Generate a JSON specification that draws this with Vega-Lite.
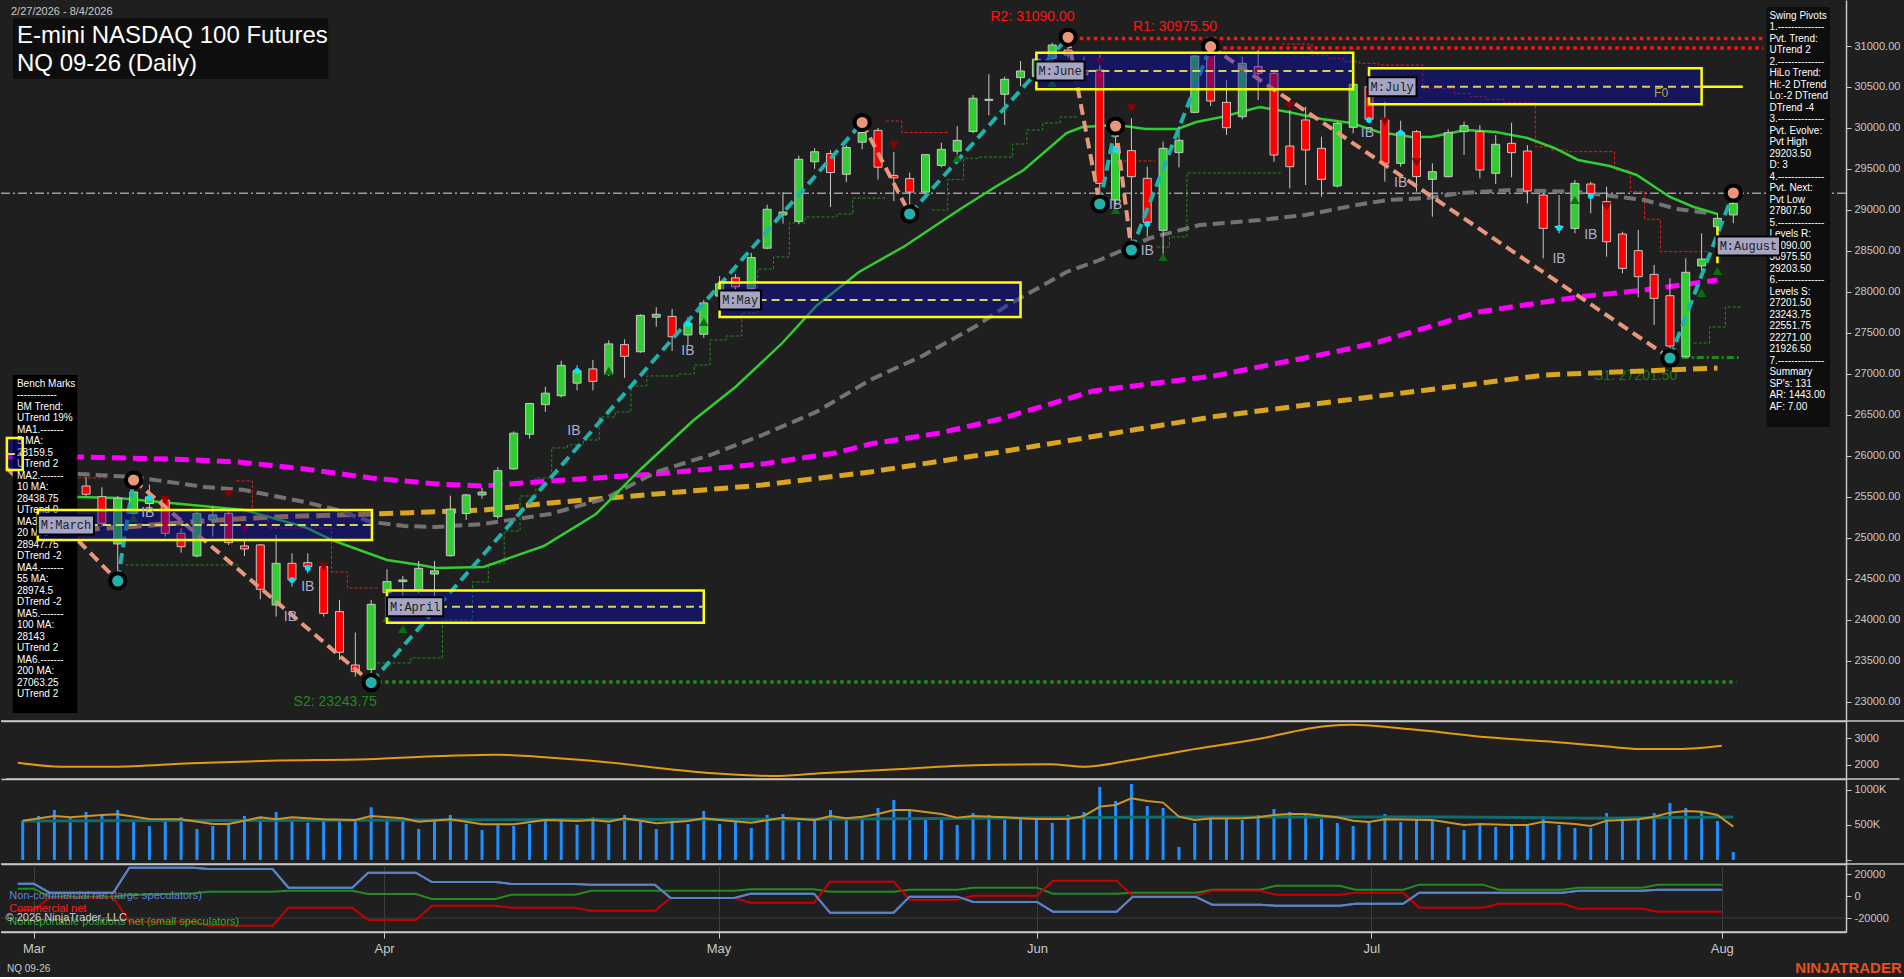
{
  "$schema": "https://vega.github.io/schema/vega-lite/v6.json",
  "background": "#1f1f1f",
  "padding": 0,
  "spacing": 0,
  "bounds": "flush",
  "config": {
    "font": "Liberation Sans",
    "view": {"stroke": null},
    "axis": {"labelColor": "#c8c8c8", "tickColor": "#c8c8c8", "domainColor": "#c8c8c8", "labelFontSize": 11, "tickSize": 5, "grid": false, "domainWidth": 1.5, "labelPadding": 3, "labelFont": "Liberation Sans"}
  },
  "datasets": {
    "candles": [
      {"i":0,"o":25650,"h":25750,"l":25450,"c":25550,"v":559},
      {"i":1,"o":25550,"h":25620,"l":25350,"c":25400,"v":626},
      {"i":2,"o":25400,"h":25680,"l":25380,"c":25600,"v":711},
      {"i":3,"o":25600,"h":25700,"l":25450,"c":25500,"v":607},
      {"i":4,"o":25634,"h":25740,"l":25504,"c":25533,"v":683},
      {"i":5,"o":25504,"h":25618,"l":25138,"c":25179,"v":635},
      {"i":6,"o":24927,"h":25512,"l":24476,"c":25484,"v":711},
      {"i":7,"o":25300,"h":25707,"l":25250,"c":25560,"v":569},
      {"i":8,"o":25420,"h":25650,"l":25350,"c":25500,"v":483},
      {"i":9,"o":25463,"h":25484,"l":25016,"c":25057,"v":559},
      {"i":10,"o":25057,"h":25118,"l":24821,"c":24894,"v":607},
      {"i":11,"o":24781,"h":25321,"l":24764,"c":25301,"v":440},
      {"i":12,"o":25220,"h":25382,"l":25016,"c":25281,"v":483},
      {"i":13,"o":25301,"h":25342,"l":24915,"c":24943,"v":502},
      {"i":14,"o":24903,"h":24975,"l":24780,"c":24866,"v":626},
      {"i":15,"o":24915,"h":24927,"l":24252,"c":24374,"v":607},
      {"i":16,"o":24183,"h":25037,"l":24041,"c":24691,"v":683},
      {"i":17,"o":24691,"h":24813,"l":24407,"c":24488,"v":545},
      {"i":18,"o":24699,"h":24813,"l":24569,"c":24650,"v":531},
      {"i":19,"o":24650,"h":24691,"l":24041,"c":24081,"v":559},
      {"i":20,"o":24102,"h":24244,"l":23512,"c":23606,"v":559},
      {"i":21,"o":23451,"h":23846,"l":23309,"c":23370,"v":559},
      {"i":22,"o":23398,"h":24244,"l":23243.75,"c":24191,"v":749},
      {"i":23,"o":24333,"h":24618,"l":24081,"c":24468,"v":588},
      {"i":24,"o":24468,"h":24537,"l":24300,"c":24488,"v":569},
      {"i":25,"o":24366,"h":24720,"l":24325,"c":24630,"v":440},
      {"i":26,"o":24560,"h":24720,"l":24163,"c":24600,"v":569},
      {"i":27,"o":24784,"h":25516,"l":24773,"c":25350,"v":640},
      {"i":28,"o":25298,"h":25540,"l":25220,"c":25525,"v":512},
      {"i":29,"o":25525,"h":25612,"l":25481,"c":25560,"v":426},
      {"i":30,"o":25263,"h":25864,"l":25233,"c":25821,"v":512},
      {"i":31,"o":25842,"h":26300,"l":25830,"c":26278,"v":483},
      {"i":32,"o":26265,"h":26648,"l":26213,"c":26640,"v":512},
      {"i":33,"o":26626,"h":26844,"l":26539,"c":26766,"v":583},
      {"i":34,"o":26735,"h":27162,"l":26714,"c":27105,"v":597},
      {"i":35,"o":26888,"h":27105,"l":26800,"c":27040,"v":502},
      {"i":36,"o":27062,"h":27171,"l":26800,"c":26910,"v":607},
      {"i":37,"o":26997,"h":27410,"l":26975,"c":27367,"v":512},
      {"i":38,"o":27358,"h":27423,"l":26953,"c":27215,"v":640},
      {"i":39,"o":27271,"h":27728,"l":27258,"c":27715,"v":540},
      {"i":40,"o":27693,"h":27815,"l":27576,"c":27728,"v":440},
      {"i":41,"o":27702,"h":27794,"l":27280,"c":27454,"v":597},
      {"i":42,"o":27476,"h":27693,"l":27354,"c":27615,"v":512},
      {"i":43,"o":27484,"h":27902,"l":27441,"c":27867,"v":697},
      {"i":44,"o":27950,"h":28194,"l":27900,"c":28100,"v":512},
      {"i":45,"o":28173,"h":28216,"l":27955,"c":28064,"v":559},
      {"i":46,"o":28042,"h":28477,"l":28020,"c":28421,"v":455},
      {"i":47,"o":28534,"h":29065,"l":28521,"c":29009,"v":640},
      {"i":48,"o":28940,"h":29218,"l":28834,"c":28975,"v":654},
      {"i":49,"o":28861,"h":29662,"l":28826,"c":29618,"v":540},
      {"i":50,"o":29588,"h":29753,"l":29501,"c":29710,"v":559},
      {"i":51,"o":29688,"h":29727,"l":29035,"c":29457,"v":711},
      {"i":52,"o":29435,"h":29793,"l":29340,"c":29762,"v":569},
      {"i":53,"o":29827,"h":30080,"l":29740,"c":29945,"v":607},
      {"i":54,"o":29971,"h":30002,"l":29370,"c":29522,"v":740},
      {"i":55,"o":29422,"h":29705,"l":29109,"c":29392,"v":854},
      {"i":56,"o":29383,"h":29457,"l":28948,"c":29218,"v":711},
      {"i":57,"o":29218,"h":29675,"l":29196,"c":29675,"v":597},
      {"i":58,"o":29544,"h":29819,"l":29522,"c":29740,"v":607},
      {"i":59,"o":29718,"h":30023,"l":29675,"c":29849,"v":497},
      {"i":60,"o":29958,"h":30402,"l":29936,"c":30363,"v":668},
      {"i":61,"o":30337,"h":30655,"l":30154,"c":30350,"v":640},
      {"i":62,"o":30411,"h":30626,"l":30037,"c":30594,"v":569},
      {"i":63,"o":30614,"h":30817,"l":30512,"c":30695,"v":583},
      {"i":64,"o":30630,"h":30900,"l":30560,"c":30840,"v":569},
      {"i":65,"o":30850,"h":31040,"l":30800,"c":31012,"v":526},
      {"i":66,"o":30951,"h":31090,"l":30850,"c":30890,"v":640},
      {"i":67,"o":30700,"h":30870,"l":30560,"c":30650,"v":683},
      {"i":68,"o":30707,"h":30890,"l":29081,"c":29325,"v":1039},
      {"i":69,"o":29122,"h":30024,"l":29050,"c":29772,"v":839},
      {"i":70,"o":29724,"h":30118,"l":28512,"c":29406,"v":1081},
      {"i":71,"o":29386,"h":29528,"l":28675,"c":28846,"v":768},
      {"i":72,"o":28752,"h":29834,"l":28431,"c":29752,"v":740},
      {"i":73,"o":29700,"h":30016,"l":29520,"c":29850,"v":184},
      {"i":74,"o":30191,"h":30890,"l":30179,"c":30878,"v":526},
      {"i":75,"o":30960,"h":30975.5,"l":30268,"c":30329,"v":611},
      {"i":76,"o":30313,"h":30585,"l":29915,"c":30004,"v":583},
      {"i":77,"o":30138,"h":30870,"l":30106,"c":30789,"v":569},
      {"i":78,"o":30748,"h":30951,"l":30341,"c":30667,"v":640},
      {"i":79,"o":30667,"h":30707,"l":29589,"c":29671,"v":725},
      {"i":80,"o":29780,"h":30220,"l":29264,"c":29528,"v":683},
      {"i":81,"o":30098,"h":30260,"l":29305,"c":29732,"v":654},
      {"i":82,"o":29752,"h":29894,"l":29163,"c":29374,"v":583},
      {"i":83,"o":29293,"h":30077,"l":29276,"c":30057,"v":526},
      {"i":84,"o":30008,"h":30545,"l":29935,"c":30533,"v":483},
      {"i":85,"o":30504,"h":30748,"l":30057,"c":30106,"v":526},
      {"i":86,"o":30098,"h":30321,"l":29346,"c":29569,"v":654},
      {"i":87,"o":29569,"h":30089,"l":29528,"c":29943,"v":540},
      {"i":88,"o":29955,"h":29975,"l":29224,"c":29407,"v":583},
      {"i":89,"o":29374,"h":29569,"l":28918,"c":29467,"v":554},
      {"i":90,"o":29406,"h":29983,"l":29398,"c":29943,"v":469},
      {"i":91,"o":29955,"h":30077,"l":29670,"c":30028,"v":426},
      {"i":92,"o":29955,"h":30036,"l":29386,"c":29488,"v":512},
      {"i":93,"o":29447,"h":29914,"l":29317,"c":29801,"v":469},
      {"i":94,"o":29813,"h":30065,"l":29398,"c":29699,"v":497},
      {"i":95,"o":29719,"h":29792,"l":29081,"c":29232,"v":512},
      {"i":96,"o":29183,"h":29203,"l":28410,"c":28776,"v":626},
      {"i":97,"o":28790,"h":29183,"l":28715,"c":28800,"v":497},
      {"i":98,"o":28776,"h":29366,"l":28715,"c":29325,"v":455},
      {"i":99,"o":29317,"h":29345,"l":28959,"c":29203,"v":455},
      {"i":100,"o":29101,"h":29284,"l":28430,"c":28613,"v":668},
      {"i":101,"o":28707,"h":28735,"l":28227,"c":28288,"v":597},
      {"i":102,"o":28504,"h":28756,"l":27935,"c":28187,"v":597},
      {"i":103,"o":28215,"h":28329,"l":27597,"c":27922,"v":668},
      {"i":104,"o":27955,"h":28166,"l":27201.5,"c":27341,"v":811},
      {"i":105,"o":27211,"h":28410,"l":27201.5,"c":28240,"v":740},
      {"i":106,"o":28317,"h":28715,"l":28187,"c":28402,"v":683},
      {"i":107,"o":28796,"h":28959,"l":28553,"c":28898,"v":554},
      {"i":108,"o":28940,"h":29203.5,"l":28840,"c":29080,"v":113}
    ],
    "ma": [
      {"m":"20","i":0,"p":25524},{"m":"20","i":3.5,"p":25500},{"m":"20","i":6,"p":25488},{"m":"20","i":12,"p":25378},{"m":"20","i":14,"p":25341},{"m":"20","i":17.8,"p":25134},{"m":"20","i":19.5,"p":24976},{"m":"20","i":20.9,"p":24878},{"m":"20","i":23,"p":24732},{"m":"20","i":25.1,"p":24671},{"m":"20","i":26.1,"p":24634},{"m":"20","i":29.1,"p":24646},{"m":"20","i":32.9,"p":24902},{"m":"20","i":36.2,"p":25293},{"m":"20","i":38.9,"p":25817},{"m":"20","i":42.3,"p":26427},{"m":"20","i":45,"p":26841},{"m":"20","i":47.9,"p":27366},{"m":"20","i":50.1,"p":27829},{"m":"20","i":52.8,"p":28244},{"m":"20","i":55.7,"p":28561},{"m":"20","i":59.1,"p":29000},{"m":"20","i":61.4,"p":29280},{"m":"20","i":63.2,"p":29488},{"m":"20","i":65.9,"p":29939},{"m":"20","i":66.9,"p":30012},{"m":"20","i":69.1,"p":30037},{"m":"20","i":70.9,"p":29988},{"m":"20","i":72.9,"p":29988},{"m":"20","i":74.1,"p":30073},{"m":"20","i":75.7,"p":30134},{"m":"20","i":78.1,"p":30256},{"m":"20","i":79.9,"p":30195},{"m":"20","i":82,"p":30110},{"m":"20","i":83.9,"p":30061},{"m":"20","i":85.6,"p":29951},{"m":"20","i":87.7,"p":29890},{"m":"20","i":88.9,"p":29890},{"m":"20","i":91.1,"p":29976},{"m":"20","i":93,"p":29951},{"m":"20","i":95,"p":29878},{"m":"20","i":96.7,"p":29756},{"m":"20","i":98.2,"p":29610},{"m":"20","i":100.2,"p":29537},{"m":"20","i":101.9,"p":29427},{"m":"20","i":104,"p":29159},{"m":"20","i":105.5,"p":29037},{"m":"20","i":107,"p":28951},
      {"m":"55","i":1.2,"p":25781},{"m":"55","i":3.5,"p":25781},{"m":"55","i":7,"p":25744},{"m":"55","i":11.5,"p":25622},{"m":"55","i":14,"p":25585},{"m":"55","i":17.8,"p":25439},{"m":"55","i":19.9,"p":25341},{"m":"55","i":22,"p":25195},{"m":"55","i":24.1,"p":25146},{"m":"55","i":26.1,"p":25134},{"m":"55","i":29.1,"p":25171},{"m":"55","i":33.3,"p":25293},{"m":"55","i":36.7,"p":25476},{"m":"55","i":40,"p":25805},{"m":"55","i":43.4,"p":26012},{"m":"55","i":46.7,"p":26256},{"m":"55","i":50.1,"p":26537},{"m":"55","i":53.5,"p":26927},{"m":"55","i":56.8,"p":27220},{"m":"55","i":60.2,"p":27585},{"m":"55","i":62.1,"p":27829},{"m":"55","i":65.9,"p":28244},{"m":"55","i":68,"p":28390},{"m":"55","i":71.2,"p":28659},{"m":"55","i":74.3,"p":28817},{"m":"55","i":78.1,"p":28878},{"m":"55","i":81,"p":28939},{"m":"55","i":84.2,"p":29061},{"m":"55","i":86.2,"p":29122},{"m":"55","i":88.7,"p":29146},{"m":"55","i":90.8,"p":29207},{"m":"55","i":94,"p":29244},{"m":"55","i":98.2,"p":29220},{"m":"55","i":102.4,"p":29122},{"m":"55","i":104.4,"p":29012},{"m":"55","i":106.5,"p":28963},
      {"m":"100","i":-1.0,"p":25988},{"m":"100","i":3.5,"p":25988},{"m":"100","i":9.4,"p":25963},{"m":"100","i":13.6,"p":25927},{"m":"100","i":17.8,"p":25842},{"m":"100","i":22,"p":25732},{"m":"100","i":26.1,"p":25659},{"m":"100","i":29.1,"p":25634},{"m":"100","i":33.3,"p":25695},{"m":"100","i":40,"p":25781},{"m":"100","i":46.7,"p":25903},{"m":"100","i":51.3,"p":26037},{"m":"100","i":53.5,"p":26146},{"m":"100","i":57.9,"p":26281},{"m":"100","i":61.7,"p":26451},{"m":"100","i":67.6,"p":26793},{"m":"100","i":75.2,"p":26976},{"m":"100","i":82.8,"p":27268},{"m":"100","i":85.6,"p":27390},{"m":"100","i":91.9,"p":27756},{"m":"100","i":98.2,"p":27939},{"m":"100","i":102.4,"p":28024},{"m":"100","i":107,"p":28146},
      {"m":"200","i":0,"p":25073},{"m":"200","i":3.5,"p":25098},{"m":"200","i":7.3,"p":25146},{"m":"200","i":11.5,"p":25207},{"m":"200","i":15.7,"p":25256},{"m":"200","i":19.9,"p":25280},{"m":"200","i":24.1,"p":25305},{"m":"200","i":29.1,"p":25341},{"m":"200","i":33.3,"p":25427},{"m":"200","i":40,"p":25537},{"m":"200","i":46.7,"p":25646},{"m":"200","i":53.5,"p":25805},{"m":"200","i":61.7,"p":26049},{"m":"200","i":75.2,"p":26480},{"m":"200","i":90.5,"p":26850},{"m":"200","i":96.1,"p":26988},{"m":"200","i":103.9,"p":27049},{"m":"200","i":107,"p":27073}
    ],
    "gstep": [
      {"s":"a","i":6.5,"p":24671},{"s":"a","i":13.6,"p":24671},
      {"s":"b","i":22.4,"p":23476},{"s":"b","i":24.5,"p":23537},{"s":"b","i":26.5,"p":24000},{"s":"b","i":28.4,"p":24463},{"s":"b","i":29.4,"p":24683},{"s":"b","i":30.4,"p":25085},{"s":"b","i":31.4,"p":25512},{"s":"b","i":32.4,"p":25732},{"s":"b","i":33.4,"p":26098},{"s":"b","i":34.4,"p":26134},{"s":"b","i":35.4,"p":26195},{"s":"b","i":36.4,"p":26476},{"s":"b","i":37.4,"p":26537},{"s":"b","i":38.4,"p":26854},{"s":"b","i":39.4,"p":26976},{"s":"b","i":41.4,"p":27000},{"s":"b","i":42.4,"p":27110},{"s":"b","i":43.4,"p":27415},{"s":"b","i":44.4,"p":27463},{"s":"b","i":45.4,"p":27744},{"s":"b","i":46.4,"p":28280},{"s":"b","i":47.4,"p":28427},{"s":"b","i":48.4,"p":28842},{"s":"b","i":49.4,"p":28915},{"s":"b","i":51.4,"p":28951},{"s":"b","i":52.4,"p":29146},{"s":"b","i":54.5,"p":29146},
      {"s":"c","i":57.4,"p":29000},{"s":"c","i":58.4,"p":29370},{"s":"c","i":59.4,"p":29631},{"s":"c","i":60.4,"p":29646},{"s":"c","i":62.5,"p":29805},{"s":"c","i":63.4,"p":29976},{"s":"c","i":64.4,"p":30061},{"s":"c","i":65.5,"p":30134},{"s":"c","i":66.6,"p":30134},
      {"s":"d","i":71.6,"p":28549},{"s":"d","i":72.4,"p":28671},{"s":"d","i":73.5,"p":29451},{"s":"d","i":79.5,"p":29451},
      {"s":"e","i":105.5,"p":27378},{"s":"e","i":106.5,"p":27573},{"s":"e","i":107.5,"p":27817},{"s":"e","i":108.5,"p":27817}
    ],
    "rstep": [
      {"s":"a","i":3.5,"p":25732},{"s":"a","i":5.4,"p":25732},
      {"s":"b","i":13.5,"p":25695},{"s":"b","i":14.5,"p":25341},{"s":"b","i":15.5,"p":25122},{"s":"b","i":19.5,"p":24585},{"s":"b","i":20.5,"p":24390},{"s":"b","i":22.5,"p":24390},
      {"s":"c","i":54.5,"p":30085},{"s":"c","i":55.5,"p":29945},{"s":"c","i":58.4,"p":29945},
      {"s":"d","i":69.5,"p":29598},{"s":"d","i":71.5,"p":29598},
      {"s":"e","i":79.5,"p":31024},{"s":"e","i":81.4,"p":30890},{"s":"e","i":82.4,"p":30850},{"s":"e","i":83.4,"p":30809},{"s":"e","i":84.4,"p":30789},{"s":"e","i":85.6,"p":30768},{"s":"e","i":88.4,"p":30484},{"s":"e","i":90.4,"p":30423},{"s":"e","i":91.4,"p":30382},{"s":"e","i":92.4,"p":30350},{"s":"e","i":93.5,"p":30309},{"s":"e","i":95.5,"p":29772},{"s":"e","i":96.5,"p":29732},{"s":"e","i":97.5,"p":29711},{"s":"e","i":100.5,"p":29488},{"s":"e","i":101.5,"p":29223},{"s":"e","i":102.4,"p":28887},{"s":"e","i":103.4,"p":28492},{"s":"e","i":106.5,"p":28492}
    ],
    "zig": [
      {"s":1,"d":"dn","i":-1.0,"p":25854},{"s":1,"d":"dn","i":6,"p":24476},
      {"s":2,"d":"up","i":6,"p":24476},{"s":2,"d":"up","i":7,"p":25707},
      {"s":3,"d":"dn","i":7,"p":25707},{"s":3,"d":"dn","i":22,"p":23236},
      {"s":4,"d":"up","i":22,"p":23236},{"s":4,"d":"up","i":53,"p":30067},
      {"s":5,"d":"dn","i":53,"p":30067},{"s":5,"d":"dn","i":56,"p":28951},
      {"s":6,"d":"up","i":56,"p":28951},{"s":6,"d":"up","i":66,"p":31106},
      {"s":7,"d":"dn","i":66,"p":31106},{"s":7,"d":"dn","i":68,"p":29073},
      {"s":8,"d":"up","i":68,"p":29073},{"s":8,"d":"up","i":69,"p":30024},
      {"s":9,"d":"dn","i":69,"p":30024},{"s":9,"d":"dn","i":70,"p":28512},
      {"s":10,"d":"up","i":70,"p":28512},{"s":10,"d":"up","i":75,"p":30992},
      {"s":11,"d":"dn","i":75,"p":30992},{"s":11,"d":"dn","i":104,"p":27195},
      {"s":12,"d":"up","i":104,"p":27195},{"s":12,"d":"up","i":108,"p":29207}
    ],
    "piv": [
      {"t":"H","i":7,"p":25707},{"t":"H","i":53,"p":30067},{"t":"H","i":66,"p":31106},{"t":"H","i":69,"p":30024},{"t":"H","i":75,"p":30992},{"t":"H","i":108,"p":29207},
      {"t":"L","i":6,"p":24476},{"t":"L","i":22,"p":23236},{"t":"L","i":56,"p":28951},{"t":"L","i":68,"p":29073},{"t":"L","i":70,"p":28512},{"t":"L","i":104,"p":27195}
    ],
    "tri": [
      {"t":"dn","i":9,"p":25463},{"t":"dn","i":13,"p":25533},{"t":"dn","i":14,"p":25098},{"t":"dn","i":19,"p":24650},{"t":"dn","i":55,"p":29784},{"t":"dn","i":68,"p":30809},{"t":"dn","i":70,"p":30240},{"t":"dn","i":80,"p":30268},{"t":"dn","i":86,"p":30077},{"t":"dn","i":88,"p":29581},{"t":"dn","i":100,"p":29040},
      {"t":"up","i":6,"p":24427},{"t":"up","i":7,"p":25244},{"t":"up","i":22,"p":23207},{"t":"up","i":23,"p":24025},{"t":"up","i":24,"p":23890},{"t":"up","i":37,"p":27037},{"t":"up","i":43,"p":27634},{"t":"up","i":56,"p":28900},{"t":"up","i":59,"p":29634},{"t":"up","i":65,"p":30549},{"t":"up","i":69,"p":29000},{"t":"up","i":72,"p":28427},{"t":"up","i":98,"p":29122},{"t":"up","i":104,"p":27150},{"t":"up","i":106,"p":27988},{"t":"up","i":107,"p":28256}
    ],
    "dots": [
      {"i":8,"p":25488},{"i":17,"p":24488},{"i":18,"p":24634},{"i":35,"p":27037},{"i":42,"p":27610},{"i":69,"p":29732},{"i":71,"p":28829},{"i":85,"p":30098},{"i":87,"p":29939},{"i":97,"p":28780},{"i":99,"p":29171}
    ],
    "lines": [
      {"k":"R","i1":66.3,"i2":109.9,"p":31090},
      {"k":"R","i1":75.8,"i2":109.9,"p":30975.5},
      {"k":"S","i1":22,"i2":108.2,"p":23243.75},
      {"k":"S1","i1":103.8,"i2":108.5,"p":27201.5}
    ],
    "notes": [
      {"k":"R","t":"R2: 31090.00","i":61.1,"p":31348},
      {"k":"R","t":"R1: 30975.50","i":70.1,"p":31226},
      {"k":"S","t":"S2: 23243.75","i":17.1,"p":23000},
      {"k":"F","t":"F0","i":103.0,"p":30427},
      {"k":"S1","t":"S1: 27201.50","i":99.2,"p":26976}
    ],
    "boxes": [
      {"m":"Feb","i1":-1.0,"i2":0.0,"top":26220,"bot":25829,"mid":26024},
      {"m":"Mar","i1":0.95,"i2":22.05,"top":25342,"bot":24976,"mid":25159},
      {"m":"Apr","i1":23,"i2":43,"top":24358,"bot":23967,"mid":24162},
      {"m":"May","i1":44,"i2":63,"top":28116,"bot":27695,"mid":27902},
      {"m":"Jun","i1":64,"i2":84,"top":30918,"bot":30472,"mid":30695},
      {"m":"Jul","i1":85,"i2":106,"top":30728,"bot":30289,"mid":30504},
      {"m":"Aug","i1":107,"i2":107,"top":28796,"bot":28350,"mid":28573}
    ],
    "labels": [
      {"t":"M:March","i1":0.955,"i2":4.5,"p1":25275,"p2":25043,"p":25159},
      {"t":"M:April","i1":23.0,"i2":26.55,"p1":24278,"p2":24046,"p":24162},
      {"t":"M:May","i1":43.97,"i2":46.61,"p1":28018,"p2":27786,"p":27902},
      {"t":"M:June","i1":63.94,"i2":67.04,"p1":30811,"p2":30579,"p":30695},
      {"t":"M:July","i1":84.91,"i2":88.0,"p1":30620,"p2":30388,"p":30504},
      {"t":"M:August","i1":106.95,"i2":110.95,"p1":28677,"p2":28445,"p":28561}
    ],
    "ib": [
      {"i":7.9,"p":25305},{"i":18,"p":24403},{"i":16.9,"p":24037},{"i":34.8,"p":26305},{"i":42,"p":27281},{"i":69,"p":29061},{"i":71,"p":28500},{"i":84.9,"p":29939},{"i":87,"p":29329},{"i":97,"p":28403},{"i":99,"p":28695}
    ],
    "infob": [
      {"k":"bench","i1":-0.63,"i2":3.45,"p1":26988,"p2":22866},
      {"k":"swing","i1":110.1,"i2":114.1,"p1":31476,"p2":26354}
    ],
    "infot": [
      {"k":"bench","i":-0.365,"p":26939,"lines":["Bench Marks","------------","BM Trend:","UTrend 19%","MA1.-------","5 MA:","28159.5","UTrend 2","MA2.-------","10 MA:","28438.75","UTrend 0","MA3.-------","20 MA:","28947.75","DTrend -2","MA4.-------","55 MA:","28974.5","DTrend -2","MA5.-------","100 MA:","28143","UTrend 2","MA6.-------","200 MA:","27063.25","UTrend 2"]},
      {"k":"swing","i":110.28,"p":31430,"lines":["Swing Pivots","1.--------------","Pvt. Trend:","UTrend 2","2.--------------","HiLo Trend:","Hi:-2 DTrend","Lo:-2 DTrend","DTrend -4","3.--------------","Pvt. Evolve:","Pvt High","29203.50","D: 3","4.--------------","Pvt. Next:","Pvt Low","27807.50","5.--------------","Levels R:","31090.00","30975.50","29203.50","6.--------------","Levels S:","27201.50","23243.75","22551.75","22271.00","21926.50","7.--------------","Summary","SP's: 131","AR: 1443.00","AF: 7.00"]}
    ],
    "atr": [
      {"i":0,"a":2085},{"i":2.8,"a":1937},{"i":5.9,"a":1937},{"i":10.9,"a":2063},{"i":15.8,"a":2159},{"i":22,"a":2211},{"i":26.6,"a":2333},{"i":30,"a":2381},{"i":32.6,"a":2307},{"i":36,"a":2159},{"i":43.2,"a":1715},{"i":47.3,"a":1593},{"i":50.4,"a":1693},{"i":55.2,"a":1841},{"i":60,"a":1989},{"i":64.8,"a":2026},{"i":67,"a":1937},{"i":69.7,"a":2159},{"i":73.3,"a":2530},{"i":77.8,"a":2952},{"i":82.2,"a":3444},{"i":83.8,"a":3493},{"i":87.5,"a":3322},{"i":92.3,"a":3026},{"i":97.1,"a":2826},{"i":99.5,"a":2704},{"i":101.9,"a":2593},{"i":104.3,"a":2593},{"i":107,"a":2715}
    ],
    "volma": [
      {"m":"s","i":0,"v":559},{"m":"s","i":2,"v":626},{"m":"s","i":3,"v":607},{"m":"s","i":5,"v":640},{"m":"s","i":6,"v":649},{"m":"s","i":8,"v":583},{"m":"s","i":10,"v":578},{"m":"s","i":12,"v":512},{"m":"s","i":13,"v":512},{"m":"s","i":15,"v":607},{"m":"s","i":16,"v":578},{"m":"s","i":17,"v":607},{"m":"s","i":19,"v":578},{"m":"s","i":21,"v":569},{"m":"s","i":22,"v":626},{"m":"s","i":24,"v":592},{"m":"s","i":25,"v":545},{"m":"s","i":27,"v":578},{"m":"s","i":29,"v":507},{"m":"s","i":31,"v":507},{"m":"s","i":33,"v":569},{"m":"s","i":35,"v":554},{"m":"s","i":36,"v":569},{"m":"s","i":37,"v":545},{"m":"s","i":38,"v":592},{"m":"s","i":40,"v":521},{"m":"s","i":42,"v":554},{"m":"s","i":43,"v":592},{"m":"s","i":44,"v":569},{"m":"s","i":46,"v":531},{"m":"s","i":48,"v":602},{"m":"s","i":50,"v":569},{"m":"s","i":51,"v":626},{"m":"s","i":52,"v":592},{"m":"s","i":53,"v":616},{"m":"s","i":54,"v":654},{"m":"s","i":55,"v":711},{"m":"s","i":56,"v":711},{"m":"s","i":58,"v":654},{"m":"s","i":59,"v":602},{"m":"s","i":60,"v":626},{"m":"s","i":62,"v":607},{"m":"s","i":64,"v":583},{"m":"s","i":66,"v":583},{"m":"s","i":67,"v":626},{"m":"s","i":68,"v":759},{"m":"s","i":69,"v":782},{"m":"s","i":70,"v":877},{"m":"s","i":71,"v":839},{"m":"s","i":72,"v":816},{"m":"s","i":73,"v":616},{"m":"s","i":74,"v":569},{"m":"s","i":75,"v":588},{"m":"s","i":77,"v":592},{"m":"s","i":78,"v":607},{"m":"s","i":79,"v":640},{"m":"s","i":80,"v":654},{"m":"s","i":81,"v":654},{"m":"s","i":83,"v":607},{"m":"s","i":84,"v":559},{"m":"s","i":85,"v":540},{"m":"s","i":86,"v":578},{"m":"s","i":89,"v":569},{"m":"s","i":91,"v":497},{"m":"s","i":92,"v":512},{"m":"s","i":94,"v":497},{"m":"s","i":95,"v":497},{"m":"s","i":96,"v":545},{"m":"s","i":98,"v":512},{"m":"s","i":99,"v":483},{"m":"s","i":100,"v":559},{"m":"s","i":102,"v":578},{"m":"s","i":103,"v":616},{"m":"s","i":104,"v":673},{"m":"s","i":105,"v":697},{"m":"s","i":106,"v":687},{"m":"s","i":107,"v":640},{"m":"s","i":108,"v":474},
      {"m":"l","i":0,"v":555},{"m":"l","i":20,"v":565},{"m":"l","i":36,"v":575},{"m":"l","i":55,"v":585},{"m":"l","i":73,"v":610},{"m":"l","i":90,"v":612},{"m":"l","i":99,"v":595},{"m":"l","i":108,"v":611}
    ],
    "cot": [
      {"i":0,"nc":11212,"nr":6667,"cm":-12727},{"i":1,"nc":11212,"nr":6667,"cm":-12727},
      {"i":2,"nc":3030,"nr":-606,"cm":-1515},{"i":6,"nc":3030,"nr":-606,"cm":-1515},
      {"i":7,"nc":25758,"nr":909,"cm":-23333},{"i":11,"nc":25758,"nr":2424,"cm":-23333},
      {"i":12,"nc":24546,"nr":3939,"cm":-26970},{"i":16,"nc":24546,"nr":3939,"cm":-26970},
      {"i":17,"nc":7576,"nr":4848,"cm":-10606},{"i":21,"nc":7576,"nr":4848,"cm":-10606},
      {"i":22,"nc":21212,"nr":1818,"cm":-21818},{"i":25,"nc":21212,"nr":1818,"cm":-21818},
      {"i":26,"nc":12727,"nr":-2727,"cm":-8788},{"i":30,"nc":12727,"nr":-2727,"cm":-8788},
      {"i":31,"nc":10909,"nr":1212,"cm":-10606},{"i":35,"nc":10909,"nr":1212,"cm":-10606},
      {"i":36,"nc":10303,"nr":4848,"cm":-13333},{"i":40,"nc":10303,"nr":4848,"cm":-13333},
      {"i":41,"nc":-1818,"nr":4848,"cm":-1818},{"i":45,"nc":-1818,"nr":4848,"cm":-1818},
      {"i":46,"nc":2121,"nr":6061,"cm":-6061},{"i":50,"nc":2121,"nr":6061,"cm":-6061},
      {"i":51,"nc":-15152,"nr":3939,"cm":13030},{"i":55,"nc":-15152,"nr":3939,"cm":13030},
      {"i":56,"nc":-606,"nr":5758,"cm":-3333},{"i":59,"nc":-606,"nr":5758,"cm":-3333},
      {"i":60,"nc":-5455,"nr":7576,"cm":303},{"i":64,"nc":-5455,"nr":7576,"cm":303},
      {"i":65,"nc":-14242,"nr":2121,"cm":13939},{"i":69,"nc":-14242,"nr":2121,"cm":13939},
      {"i":70,"nc":-909,"nr":3030,"cm":303},{"i":74,"nc":-909,"nr":3030,"cm":303},
      {"i":75,"nc":-7879,"nr":5758,"cm":4848},{"i":78,"nc":-7879,"nr":5758,"cm":4848},
      {"i":79,"nc":-8788,"nr":9394,"cm":1212},{"i":83,"nc":-8788,"nr":9394,"cm":1212},
      {"i":84,"nc":-6970,"nr":5758,"cm":3030},{"i":87,"nc":-6970,"nr":5758,"cm":3030},
      {"i":88,"nc":3030,"nr":10303,"cm":-10606},{"i":92,"nc":3030,"nr":10303,"cm":-10606},
      {"i":93,"nc":3030,"nr":5758,"cm":-6970},{"i":97,"nc":3030,"nr":5758,"cm":-6970},
      {"i":98,"nc":4848,"nr":7576,"cm":-11515},{"i":102,"nc":4848,"nr":7576,"cm":-11515},
      {"i":103,"nc":5758,"nr":10303,"cm":-14242},{"i":107,"nc":5758,"nr":10303,"cm":-14242}
    ]
  },
  "vconcat": [
    {
      "width": 1845,
      "height": 721,
      "resolve": {"axis": {"x": "independent", "y": "independent"}},
      "layer": [
        {"data": {"name": "candles"}, "mark": {"type": "rule", "opacity": 0},
         "encoding": {"x": {"field": "i", "type": "quantitative", "scale": {"domain": [-1.055, 114.8], "nice": false, "zero": false},
                            "axis": {"orient": "bottom", "labels": false, "ticks": false, "title": null, "domainColor": "#c8c8c8", "domainWidth": 1.5}},
                      "y": {"field": "l", "type": "quantitative", "scale": {"domain": [22768, 31561], "nice": false, "zero": false},
                            "axis": {"orient": "right", "title": null, "format": ".2f", "values": [23000, 23500, 24000, 24500, 25000, 25500, 26000, 26500, 27000, 27500, 28000, 28500, 29000, 29500, 30000, 30500, 31000]}},
                      "y2": {"field": "h"}}},
        {"data": {"values": [{"p": 29203.5}]}, "mark": {"type": "rule", "color": "#9c9c9c", "strokeWidth": 1.5, "strokeDash": [9, 3, 2, 3]},
         "encoding": {"y": {"field": "p", "type": "quantitative", "scale": {"domain": [22768, 31561], "nice": false, "zero": false}, "axis": null}}},
        {"data": {"name": "gstep"}, "mark": {"type": "line", "interpolate": "step-after", "color": "#1f8f1f", "strokeWidth": 1, "strokeDash": [3, 2], "clip": true},
         "encoding": {"x": {"field": "i", "type": "quantitative", "scale": {"domain": [-1.055, 114.8], "nice": false, "zero": false}, "axis": null},
                      "y": {"field": "p", "type": "quantitative", "scale": {"domain": [22768, 31561], "nice": false, "zero": false}, "axis": null},
                      "detail": {"field": "s"}}},
        {"data": {"name": "rstep"}, "mark": {"type": "line", "interpolate": "step-after", "color": "#e02020", "strokeWidth": 1, "strokeDash": [3, 2], "clip": true},
         "encoding": {"x": {"field": "i", "type": "quantitative", "scale": {"domain": [-1.055, 114.8], "nice": false, "zero": false}, "axis": null},
                      "y": {"field": "p", "type": "quantitative", "scale": {"domain": [22768, 31561], "nice": false, "zero": false}, "axis": null},
                      "detail": {"field": "s"}}},
        {"data": {"name": "lines"}, "transform": [{"filter": "datum.k == 'R'"}], "mark": {"type": "rule", "color": "#ff1414", "strokeWidth": 3.5, "strokeDash": [3.5, 3.5]},
         "encoding": {"x": {"field": "i1", "type": "quantitative", "scale": {"domain": [-1.055, 114.8], "nice": false, "zero": false}, "axis": null}, "x2": {"field": "i2"},
                      "y": {"field": "p", "type": "quantitative", "scale": {"domain": [22768, 31561], "nice": false, "zero": false}, "axis": null}}},
        {"data": {"name": "lines"}, "transform": [{"filter": "datum.k == 'S'"}], "mark": {"type": "rule", "color": "#1e8c1e", "strokeWidth": 3.5, "strokeDash": [3.5, 3.5]},
         "encoding": {"x": {"field": "i1", "type": "quantitative", "scale": {"domain": [-1.055, 114.8], "nice": false, "zero": false}, "axis": null}, "x2": {"field": "i2"},
                      "y": {"field": "p", "type": "quantitative", "scale": {"domain": [22768, 31561], "nice": false, "zero": false}, "axis": null}}},
        {"data": {"name": "lines"}, "transform": [{"filter": "datum.k == 'S1'"}], "mark": {"type": "rule", "color": "#1e8c1e", "strokeWidth": 3, "strokeDash": [7, 3, 2, 3]},
         "encoding": {"x": {"field": "i1", "type": "quantitative", "scale": {"domain": [-1.055, 114.8], "nice": false, "zero": false}, "axis": null}, "x2": {"field": "i2"},
                      "y": {"field": "p", "type": "quantitative", "scale": {"domain": [22768, 31561], "nice": false, "zero": false}, "axis": null}}},
        {"data": {"name": "notes"}, "transform": [{"filter": "datum.k == 'S1'"}], "mark": {"type": "text", "align": "left", "baseline": "middle", "fontSize": 14, "color": "#1a7a1a"},
         "encoding": {"x": {"field": "i", "type": "quantitative", "scale": {"domain": [-1.055, 114.8], "nice": false, "zero": false}, "axis": null},
                      "y": {"field": "p", "type": "quantitative", "scale": {"domain": [22768, 31561], "nice": false, "zero": false}, "axis": null},
                      "text": {"field": "t"}}},
        {"data": {"name": "ma"}, "transform": [{"filter": "datum.m == '200'"}], "mark": {"type": "line", "color": "#daa520", "strokeWidth": 5, "strokeDash": [14, 7], "clip": true},
         "encoding": {"x": {"field": "i", "type": "quantitative", "scale": {"domain": [-1.055, 114.8], "nice": false, "zero": false}, "axis": null},
                      "y": {"field": "p", "type": "quantitative", "scale": {"domain": [22768, 31561], "nice": false, "zero": false}, "axis": null}}},
        {"data": {"name": "ma"}, "transform": [{"filter": "datum.m == '100'"}], "mark": {"type": "line", "color": "#ff00ff", "strokeWidth": 5, "strokeDash": [14, 7], "clip": true},
         "encoding": {"x": {"field": "i", "type": "quantitative", "scale": {"domain": [-1.055, 114.8], "nice": false, "zero": false}, "axis": null},
                      "y": {"field": "p", "type": "quantitative", "scale": {"domain": [22768, 31561], "nice": false, "zero": false}, "axis": null}}},
        {"data": {"name": "ma"}, "transform": [{"filter": "datum.m == '55'"}], "mark": {"type": "line", "color": "#737373", "strokeWidth": 4, "strokeDash": [12, 6], "clip": true},
         "encoding": {"x": {"field": "i", "type": "quantitative", "scale": {"domain": [-1.055, 114.8], "nice": false, "zero": false}, "axis": null},
                      "y": {"field": "p", "type": "quantitative", "scale": {"domain": [22768, 31561], "nice": false, "zero": false}, "axis": null}}},
        {"data": {"name": "ma"}, "transform": [{"filter": "datum.m == '20'"}], "mark": {"type": "line", "color": "#32cd32", "strokeWidth": 2.5, "clip": true},
         "encoding": {"x": {"field": "i", "type": "quantitative", "scale": {"domain": [-1.055, 114.8], "nice": false, "zero": false}, "axis": null},
                      "y": {"field": "p", "type": "quantitative", "scale": {"domain": [22768, 31561], "nice": false, "zero": false}, "axis": null}}},
        {"data": {"name": "candles"}, "mark": {"type": "rule", "color": "#c8c8c8", "strokeWidth": 1},
         "encoding": {"x": {"field": "i", "type": "quantitative", "scale": {"domain": [-1.055, 114.8], "nice": false, "zero": false}, "axis": null},
                      "y": {"field": "l", "type": "quantitative", "scale": {"domain": [22768, 31561], "nice": false, "zero": false}, "axis": null},
                      "y2": {"field": "h"}}},
        {"data": {"name": "candles"}, "mark": {"type": "bar", "size": 8, "stroke": "#c8c8c8", "strokeWidth": 1},
         "encoding": {"x": {"field": "i", "type": "quantitative", "scale": {"domain": [-1.055, 114.8], "nice": false, "zero": false}, "axis": null},
                      "y": {"field": "o", "type": "quantitative", "scale": {"domain": [22768, 31561], "nice": false, "zero": false}, "axis": null},
                      "y2": {"field": "c"},
                      "color": {"condition": {"test": "datum.c >= datum.o", "value": "#32cd32"}, "value": "#ff0000"}}},
        {"data": {"name": "zig"}, "transform": [{"filter": "datum.d == 'dn'"}], "mark": {"type": "line", "color": "#e9967a", "strokeWidth": 4, "strokeDash": [11, 6], "clip": true},
         "encoding": {"x": {"field": "i", "type": "quantitative", "scale": {"domain": [-1.055, 114.8], "nice": false, "zero": false}, "axis": null},
                      "y": {"field": "p", "type": "quantitative", "scale": {"domain": [22768, 31561], "nice": false, "zero": false}, "axis": null},
                      "detail": {"field": "s"}}},
        {"data": {"name": "zig"}, "transform": [{"filter": "datum.d == 'up'"}], "mark": {"type": "line", "color": "#20b2aa", "strokeWidth": 4, "strokeDash": [11, 6], "clip": true},
         "encoding": {"x": {"field": "i", "type": "quantitative", "scale": {"domain": [-1.055, 114.8], "nice": false, "zero": false}, "axis": null},
                      "y": {"field": "p", "type": "quantitative", "scale": {"domain": [22768, 31561], "nice": false, "zero": false}, "axis": null},
                      "detail": {"field": "s"}}},
        {"data": {"name": "tri"}, "transform": [{"filter": "datum.t == 'dn'"}], "mark": {"type": "point", "shape": "triangle-down", "filled": true, "color": "#8b0000", "size": 90, "opacity": 1},
         "encoding": {"x": {"field": "i", "type": "quantitative", "scale": {"domain": [-1.055, 114.8], "nice": false, "zero": false}, "axis": null},
                      "y": {"field": "p", "type": "quantitative", "scale": {"domain": [22768, 31561], "nice": false, "zero": false}, "axis": null}}},
        {"data": {"name": "tri"}, "transform": [{"filter": "datum.t == 'up'"}], "mark": {"type": "point", "shape": "triangle-up", "filled": true, "color": "#0a6e0a", "size": 90, "opacity": 1},
         "encoding": {"x": {"field": "i", "type": "quantitative", "scale": {"domain": [-1.055, 114.8], "nice": false, "zero": false}, "axis": null},
                      "y": {"field": "p", "type": "quantitative", "scale": {"domain": [22768, 31561], "nice": false, "zero": false}, "axis": null}}},
        {"data": {"name": "dots"}, "mark": {"type": "point", "shape": "circle", "filled": true, "color": "#00e5ff", "size": 35, "opacity": 1},
         "encoding": {"x": {"field": "i", "type": "quantitative", "scale": {"domain": [-1.055, 114.8], "nice": false, "zero": false}, "axis": null},
                      "y": {"field": "p", "type": "quantitative", "scale": {"domain": [22768, 31561], "nice": false, "zero": false}, "axis": null}}},
        {"data": {"name": "piv"}, "mark": {"type": "point", "shape": "circle", "filled": true, "stroke": "#000000", "strokeWidth": 4, "size": 230, "opacity": 1},
         "encoding": {"x": {"field": "i", "type": "quantitative", "scale": {"domain": [-1.055, 114.8], "nice": false, "zero": false}, "axis": null},
                      "y": {"field": "p", "type": "quantitative", "scale": {"domain": [22768, 31561], "nice": false, "zero": false}, "axis": null},
                      "fill": {"condition": {"test": "datum.t == 'H'", "value": "#e9967a"}, "value": "#20b2aa"}}},
        {"data": {"name": "infob"}, "mark": {"type": "rect"},
         "encoding": {"x": {"field": "i1", "type": "quantitative", "scale": {"domain": [-1.055, 114.8], "nice": false, "zero": false}, "axis": null}, "x2": {"field": "i2"},
                      "y": {"field": "p1", "type": "quantitative", "scale": {"domain": [22768, 31561], "nice": false, "zero": false}, "axis": null}, "y2": {"field": "p2"},
                      "fill": {"condition": {"test": "datum.k == 'bench'", "value": "#000000"}, "value": "#0e0e0e"}}},
        {"data": {"name": "infot"}, "mark": {"type": "text", "align": "left", "baseline": "top", "fontSize": 10, "lineHeight": 11.5, "lineBreak": "\n", "color": "#ffffff"},
         "encoding": {"x": {"field": "i", "type": "quantitative", "scale": {"domain": [-1.055, 114.8], "nice": false, "zero": false}, "axis": null},
                      "y": {"field": "p", "type": "quantitative", "scale": {"domain": [22768, 31561], "nice": false, "zero": false}, "axis": null},
                      "text": {"field": "lines"}}},
        {"data": {"name": "boxes"}, "mark": {"type": "rect", "fill": "#0a0ab4", "fillOpacity": 0.42, "stroke": "#ffff00", "strokeWidth": 2.5, "clip": true},
         "encoding": {"x": {"field": "i1", "type": "quantitative", "scale": {"domain": [-1.055, 114.8], "nice": false, "zero": false}, "axis": null}, "x2": {"field": "i2"},
                      "y": {"field": "top", "type": "quantitative", "scale": {"domain": [22768, 31561], "nice": false, "zero": false}, "axis": null}, "y2": {"field": "bot"}}},
        {"data": {"name": "boxes"}, "transform": [{"filter": "datum.i2 > datum.i1"}], "mark": {"type": "rule", "color": "#d4d45a", "strokeWidth": 2, "strokeDash": [8, 5], "clip": true},
         "encoding": {"x": {"field": "i1", "type": "quantitative", "scale": {"domain": [-1.055, 114.8], "nice": false, "zero": false}, "axis": null}, "x2": {"field": "i2"},
                      "y": {"field": "mid", "type": "quantitative", "scale": {"domain": [22768, 31561], "nice": false, "zero": false}, "axis": null}}},
        {"data": {"values": [{"i1": 106, "i2": 108.6, "p": 30504}]}, "mark": {"type": "rule", "color": "#ffff00", "strokeWidth": 2.5},
         "encoding": {"x": {"field": "i1", "type": "quantitative", "scale": {"domain": [-1.055, 114.8], "nice": false, "zero": false}, "axis": null}, "x2": {"field": "i2"},
                      "y": {"field": "p", "type": "quantitative", "scale": {"domain": [22768, 31561], "nice": false, "zero": false}, "axis": null}}},
        {"data": {"name": "labels"}, "mark": {"type": "rect", "fill": "#a6a6c4", "stroke": "#000000", "strokeWidth": 2},
         "encoding": {"x": {"field": "i1", "type": "quantitative", "scale": {"domain": [-1.055, 114.8], "nice": false, "zero": false}, "axis": null}, "x2": {"field": "i2"},
                      "y": {"field": "p1", "type": "quantitative", "scale": {"domain": [22768, 31561], "nice": false, "zero": false}, "axis": null}, "y2": {"field": "p2"}}},
        {"data": {"name": "labels"}, "mark": {"type": "text", "align": "left", "baseline": "middle", "dx": 3, "font": "Liberation Mono", "fontSize": 12, "color": "#202020"},
         "encoding": {"x": {"field": "i1", "type": "quantitative", "scale": {"domain": [-1.055, 114.8], "nice": false, "zero": false}, "axis": null},
                      "y": {"field": "p", "type": "quantitative", "scale": {"domain": [22768, 31561], "nice": false, "zero": false}, "axis": null},
                      "text": {"field": "t"}}},
        {"data": {"name": "ib"}, "mark": {"type": "text", "align": "center", "baseline": "middle", "fontSize": 14, "color": "#a9aed0", "text": "IB"},
         "encoding": {"x": {"field": "i", "type": "quantitative", "scale": {"domain": [-1.055, 114.8], "nice": false, "zero": false}, "axis": null},
                      "y": {"field": "p", "type": "quantitative", "scale": {"domain": [22768, 31561], "nice": false, "zero": false}, "axis": null}}},
        {"data": {"name": "notes"}, "transform": [{"filter": "datum.k != 'S1'"}], "mark": {"type": "text", "align": "left", "baseline": "middle"},
         "encoding": {"x": {"field": "i", "type": "quantitative", "scale": {"domain": [-1.055, 114.8], "nice": false, "zero": false}, "axis": null},
                      "y": {"field": "p", "type": "quantitative", "scale": {"domain": [22768, 31561], "nice": false, "zero": false}, "axis": null},
                      "text": {"field": "t"},
                      "size": {"condition": {"test": "datum.k == 'F'", "value": 12}, "value": 14},
                      "color": {"condition": [{"test": "datum.k == 'R'", "value": "#ff1414"}, {"test": "datum.k == 'S'", "value": "#1e8c1e"}], "value": "#b8a040"}}},
        {"data": {"values": [{"i1": -0.615, "i2": 19.29, "p1": 31341, "p2": 30598}]}, "mark": {"type": "rect", "fill": "#0e0e0e"},
         "encoding": {"x": {"field": "i1", "type": "quantitative", "scale": {"domain": [-1.055, 114.8], "nice": false, "zero": false}, "axis": null}, "x2": {"field": "i2"},
                      "y": {"field": "p1", "type": "quantitative", "scale": {"domain": [22768, 31561], "nice": false, "zero": false}, "axis": null}, "y2": {"field": "p2"}}},
        {"data": {"values": [{"t": "E-mini NASDAQ 100 Futures", "i": -0.36, "p": 31037}, {"t": "NQ 09-26 (Daily)", "i": -0.36, "p": 30695}]},
         "mark": {"type": "text", "align": "left", "baseline": "alphabetic", "fontSize": 24, "color": "#ffffff"},
         "encoding": {"x": {"field": "i", "type": "quantitative", "scale": {"domain": [-1.055, 114.8], "nice": false, "zero": false}, "axis": null},
                      "y": {"field": "p", "type": "quantitative", "scale": {"domain": [22768, 31561], "nice": false, "zero": false}, "axis": null},
                      "text": {"field": "t"}}},
        {"data": {"values": [{"t": "2/27/2026 - 8/4/2026", "i": -0.74, "p": 31418}]},
         "mark": {"type": "text", "align": "left", "baseline": "middle", "fontSize": 11, "color": "#c8c8c8"},
         "encoding": {"x": {"field": "i", "type": "quantitative", "scale": {"domain": [-1.055, 114.8], "nice": false, "zero": false}, "axis": null},
                      "y": {"field": "p", "type": "quantitative", "scale": {"domain": [22768, 31561], "nice": false, "zero": false}, "axis": null},
                      "text": {"field": "t"}}}
      ]
    },
    {
      "width": 1845,
      "height": 58,
      "resolve": {"axis": {"x": "independent", "y": "independent"}},
      "layer": [
        {"data": {"name": "atr"}, "mark": {"type": "line", "color": "#e39a14", "strokeWidth": 2, "interpolate": "monotone"},
         "encoding": {"x": {"field": "i", "type": "quantitative", "scale": {"domain": [-1.055, 114.8], "nice": false, "zero": false},
                            "axis": {"orient": "bottom", "labels": false, "ticks": false, "title": null, "domainColor": "#c8c8c8", "domainWidth": 1.5}},
                      "y": {"field": "a", "type": "quantitative", "scale": {"domain": [1481, 3630], "nice": false, "zero": false},
                            "axis": {"orient": "right", "title": null, "values": [2000, 3000], "format": "d"}}}},
        {"data": {"values": [{"i1": -1.055, "i2": 118.5, "a": 3630}]}, "mark": {"type": "rule", "color": "#c8c8c8", "strokeWidth": 1.5},
         "encoding": {"x": {"field": "i1", "type": "quantitative", "scale": {"domain": [-1.055, 114.8], "nice": false, "zero": false}, "axis": null}, "x2": {"field": "i2"},
                      "y": {"field": "a", "type": "quantitative", "scale": {"domain": [1481, 3630], "nice": false, "zero": false}, "axis": null}}}
      ]
    },
    {
      "width": 1845,
      "height": 85,
      "resolve": {"axis": {"x": "independent", "y": "independent"}},
      "layer": [
        {"data": {"name": "candles"}, "mark": {"type": "bar", "size": 3, "color": "#1e90ff"},
         "encoding": {"x": {"field": "i", "type": "quantitative", "scale": {"domain": [-1.055, 114.8], "nice": false, "zero": false},
                            "axis": {"orient": "bottom", "labels": false, "ticks": false, "title": null, "domainColor": "#c8c8c8", "domainWidth": 1.5}},
                      "y": {"field": "v", "type": "quantitative", "scale": {"domain": [-58, 1152], "nice": false, "zero": false},
                            "axis": {"orient": "right", "title": null, "values": [0, 500, 1000], "labelExpr": "datum.value == 0 ? '' : datum.value + 'K'"}},
                      "y2": {"datum": 0}}},
        {"data": {"values": [{"i1": -1.055, "i2": 118.5, "v": 1152}]}, "mark": {"type": "rule", "color": "#c8c8c8", "strokeWidth": 1.5},
         "encoding": {"x": {"field": "i1", "type": "quantitative", "scale": {"domain": [-1.055, 114.8], "nice": false, "zero": false}, "axis": null}, "x2": {"field": "i2"},
                      "y": {"field": "v", "type": "quantitative", "scale": {"domain": [-58, 1152], "nice": false, "zero": false}, "axis": null}}},
        {"data": {"name": "volma"}, "transform": [{"filter": "datum.m == 'l'"}], "mark": {"type": "line", "color": "#136a6a", "strokeWidth": 3, "interpolate": "monotone"},
         "encoding": {"x": {"field": "i", "type": "quantitative", "scale": {"domain": [-1.055, 114.8], "nice": false, "zero": false}, "axis": null},
                      "y": {"field": "v", "type": "quantitative", "scale": {"domain": [-58, 1152], "nice": false, "zero": false}, "axis": null}}},
        {"data": {"name": "volma"}, "transform": [{"filter": "datum.m == 's'"}], "mark": {"type": "line", "color": "#c8962a", "strokeWidth": 2},
         "encoding": {"x": {"field": "i", "type": "quantitative", "scale": {"domain": [-1.055, 114.8], "nice": false, "zero": false}, "axis": null},
                      "y": {"field": "v", "type": "quantitative", "scale": {"domain": [-58, 1152], "nice": false, "zero": false}, "axis": null}}}
      ]
    },
    {
      "width": 1845,
      "height": 68,
      "resolve": {"axis": {"x": "independent", "y": "independent"}},
      "layer": [
        {"data": {"name": "cot"}, "mark": {"type": "line", "color": "#5a82c8", "strokeWidth": 2},
         "encoding": {"x": {"field": "i", "type": "quantitative", "scale": {"domain": [-1.055, 114.8], "nice": false, "zero": false},
                            "axis": {"orient": "bottom", "title": null, "values": [1, 23, 44, 64, 85, 107],
                                     "labelExpr": "datum.value == 1 ? 'Mar' : datum.value == 23 ? 'Apr' : datum.value == 44 ? 'May' : datum.value == 64 ? 'Jun' : datum.value == 85 ? 'Jul' : 'Aug'",
                                     "grid": true, "gridColor": "#3c3c3c", "tickSize": 6, "labelFontSize": 13, "labelPadding": 4, "domainColor": "#c8c8c8", "domainWidth": 1.5}},
                      "y": {"field": "nc", "type": "quantitative", "scale": {"domain": [-32727, 29091], "nice": false, "zero": false},
                            "axis": {"orient": "right", "title": null, "values": [-20000, 0, 20000], "labelExpr": "datum.value < 0 ? '-' + abs(datum.value) : '' + datum.value"}}}},
        {"data": {"values": [{"i1": -1.055, "i2": 118.5, "v": 29091}, {"i1": -1.055, "i2": 114.8, "v": -32727}]}, "mark": {"type": "rule", "color": "#c8c8c8", "strokeWidth": 1.5},
         "encoding": {"x": {"field": "i1", "type": "quantitative", "scale": {"domain": [-1.055, 114.8], "nice": false, "zero": false}, "axis": null}, "x2": {"field": "i2"},
                      "y": {"field": "v", "type": "quantitative", "scale": {"domain": [-32727, 29091], "nice": false, "zero": false}, "axis": null}}},
        {"data": {"values": [{"v": -20000}]}, "mark": {"type": "rule", "color": "#3a3a3a", "strokeWidth": 1},
         "encoding": {"y": {"field": "v", "type": "quantitative", "scale": {"domain": [-32727, 29091], "nice": false, "zero": false}, "axis": null}}},
        {"data": {"name": "cot"}, "mark": {"type": "line", "color": "#228b22", "strokeWidth": 2},
         "encoding": {"x": {"field": "i", "type": "quantitative", "scale": {"domain": [-1.055, 114.8], "nice": false, "zero": false}, "axis": null},
                      "y": {"field": "nr", "type": "quantitative", "scale": {"domain": [-32727, 29091], "nice": false, "zero": false}, "axis": null}}},
        {"data": {"name": "cot"}, "mark": {"type": "line", "color": "#c80000", "strokeWidth": 2},
         "encoding": {"x": {"field": "i", "type": "quantitative", "scale": {"domain": [-1.055, 114.8], "nice": false, "zero": false}, "axis": null},
                      "y": {"field": "cm", "type": "quantitative", "scale": {"domain": [-32727, 29091], "nice": false, "zero": false}, "axis": null}}},
        {"data": {"name": "cot"}, "mark": {"type": "line", "color": "#5a82c8", "strokeWidth": 2},
         "encoding": {"x": {"field": "i", "type": "quantitative", "scale": {"domain": [-1.055, 114.8], "nice": false, "zero": false}, "axis": null},
                      "y": {"field": "nc", "type": "quantitative", "scale": {"domain": [-32727, 29091], "nice": false, "zero": false}, "axis": null}}},
        {"data": {"values": [
            {"t": "Non-commercial net (large speculators)", "c": "nc", "i": -0.53, "v": 0},
            {"t": "Commercial net", "c": "cm", "i": -0.53, "v": -11818},
            {"t": "Nonreportable positions net (small speculators)", "c": "nr", "i": -0.53, "v": -23333},
            {"t": "© 2026 NinjaTrader, LLC", "c": "cp", "i": -0.77, "v": -19697}]},
         "mark": {"type": "text", "align": "left", "baseline": "middle", "fontSize": 11},
         "encoding": {"x": {"field": "i", "type": "quantitative", "scale": {"domain": [-1.055, 114.8], "nice": false, "zero": false}, "axis": null},
                      "y": {"field": "v", "type": "quantitative", "scale": {"domain": [-32727, 29091], "nice": false, "zero": false}, "axis": null},
                      "text": {"field": "t"},
                      "color": {"condition": [{"test": "datum.c == 'nc'", "value": "#5b84d8"}, {"test": "datum.c == 'cm'", "value": "#ff2020"}, {"test": "datum.c == 'nr'", "value": "#32b032"}], "value": "#d0d0d0"}}},
        {"data": {"values": [{"t": "NQ 09-26", "i": -0.68, "v": -66364}]},
         "mark": {"type": "text", "align": "left", "baseline": "middle", "fontSize": 10, "color": "#c8c8c8"},
         "encoding": {"x": {"field": "i", "type": "quantitative", "scale": {"domain": [-1.055, 114.8], "nice": false, "zero": false}, "axis": null},
                      "y": {"field": "v", "type": "quantitative", "scale": {"domain": [-32727, 29091], "nice": false, "zero": false}, "axis": null},
                      "text": {"field": "t"}}},
        {"data": {"values": [{"t": "NINJATRADER", "i": 118.3, "v": -65455}]},
         "mark": {"type": "text", "align": "right", "baseline": "middle", "fontSize": 15, "fontWeight": "bold", "color": "#e8501e"},
         "encoding": {"x": {"field": "i", "type": "quantitative", "scale": {"domain": [-1.055, 114.8], "nice": false, "zero": false}, "axis": null},
                      "y": {"field": "v", "type": "quantitative", "scale": {"domain": [-32727, 29091], "nice": false, "zero": false}, "axis": null},
                      "text": {"field": "t"}}}
      ]
    }
  ]
}
